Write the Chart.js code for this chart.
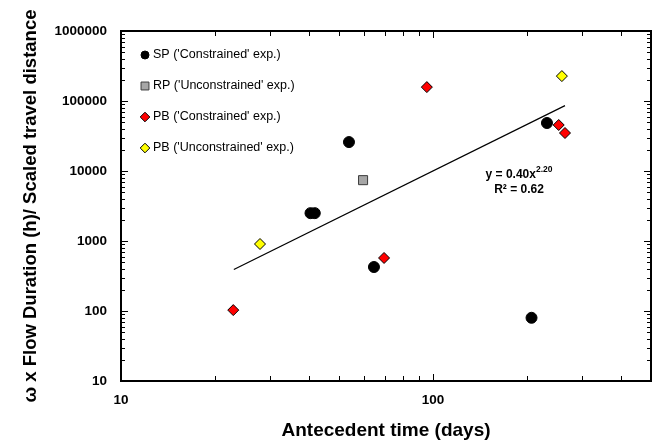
<!DOCTYPE html>
<html>
<head>
<meta charset="utf-8">
<script src="https://cdn.jsdelivr.net/npm/chart.js@4.4.0/dist/chart.umd.min.js"></script>
<style>
  html, body { margin: 0; padding: 0; background: #fff; }
</style>
</head>
<body>
<canvas id="grafico" width="659" height="442"></canvas>
<script>
const FUENTE = "'Liberation Sans', Arial, sans-serif";

// SP ('Constrained' exp.)
const spX = [40.5, 41.8, 53.8, 64.7, 207, 232];
const spY = [2500, 2500, 25900, 425, 80, 48500];
// RP ('Unconstrained' exp.)
const rpX = [59.7];
const rpY = [7400];
// PB ('Constrained' exp.)
const pbConX = [22.9, 69.7, 95.6, 253, 265];
const pbConY = [103, 572, 158000, 45400, 34900];
// PB ('Unconstrained' exp.)
const pbUncX = [27.9, 259];
const pbUncY = [906, 227000];

// recta de ajuste y = 0.40x^2.20 (extremos)
const ajusteX = [23, 265];
const ajusteY = [392, 85800];

const etiquetasX = [10, 100];
const etiquetasY = [10, 100, 1000, 10000, 100000, 1000000];

// marcas menores 2..9 de cada década
function marcasLog(min, max) {
    const marcas = [];
    for (let d = min; d < max; d *= 10) {
        for (let k = 1; k < 10; k++) marcas.push(d * k);
    }
    marcas.push(max);
    return marcas;
}
const marcasX = marcasLog(10, 100).concat([200, 300, 400, 500]);
const marcasY = marcasLog(10, 1000000);

const puntos = (xs, ys) => xs.map((x, i) => ({ x, y: ys[i] }));

const esDecada = v => Math.abs(Math.log10(v) - Math.round(Math.log10(v))) < 1e-9;

// marco del área y marcas hacia dentro en los cuatro lados
const marcoInterno = {
    id: 'marcoInterno',
    beforeDatasetsDraw(chart) {
        const { ctx, chartArea: a, scales } = chart;
        ctx.save();
        ctx.strokeStyle = '#000';
        ctx.lineWidth = 1;
        ctx.beginPath();
        marcasX.forEach(v => {
            const px = Math.round(scales.x.getPixelForValue(v)) + 0.5;
            if (px <= a.left + 1 || px >= a.right - 1) return;
            const largo = esDecada(v) ? 7 : 5;
            ctx.moveTo(px, a.bottom);
            ctx.lineTo(px, a.bottom - largo);
            ctx.moveTo(px, a.top);
            ctx.lineTo(px, a.top + largo);
        });
        marcasY.forEach(v => {
            const py = Math.round(scales.y.getPixelForValue(v)) + 0.5;
            if (py <= a.top + 1 || py >= a.bottom - 1) return;
            const largo = esDecada(v) ? 7 : 4;
            ctx.moveTo(a.left, py);
            ctx.lineTo(a.left + largo, py);
            ctx.moveTo(a.right, py);
            ctx.lineTo(a.right - largo, py);
        });
        ctx.stroke();
        ctx.lineWidth = 2;
        ctx.strokeRect(a.left, a.top, a.right - a.left, a.bottom - a.top);
        ctx.restore();
    }
};

// leyenda dentro del área y texto de la ecuación
const leyendaYEcuacion = {
    id: 'leyendaYEcuacion',
    afterDraw(chart) {
        const { ctx, chartArea: a } = chart;
        ctx.save();
        const series = chart.data.datasets.filter(d => d.enLeyenda);
        series.forEach((d, i) => {
            const x = a.left + 24;
            const y = a.top + 24 + i * 31;
            ctx.fillStyle = d.backgroundColor;
            ctx.strokeStyle = d.borderColor;
            ctx.lineWidth = 1;
            Chart.helpers.drawPoint(ctx, {
                pointStyle: d.pointStyle,
                radius: d.radioLeyenda,
                rotation: 0,
                borderWidth: 1
            }, x, y);
            ctx.fillStyle = '#000';
            ctx.font = '12.5px ' + FUENTE;
            ctx.textAlign = 'left';
            ctx.textBaseline = 'middle';
            ctx.fillText(d.label, x + 8, y);
        });

        const cx = a.left + 398;
        const y1 = a.top + 144;
        const base = 'y = 0.40x';
        const expo = '2.20';
        ctx.font = 'bold 12px ' + FUENTE;
        const wBase = ctx.measureText(base).width;
        ctx.font = 'bold 8.5px ' + FUENTE;
        const wExpo = ctx.measureText(expo).width;
        const x0 = cx - (wBase + wExpo) / 2;
        ctx.fillStyle = '#000';
        ctx.textAlign = 'left';
        ctx.textBaseline = 'middle';
        ctx.font = 'bold 12px ' + FUENTE;
        ctx.fillText(base, x0, y1);
        ctx.font = 'bold 8.5px ' + FUENTE;
        ctx.fillText(expo, x0 + wBase, y1 - 5);
        ctx.font = 'bold 12px ' + FUENTE;
        ctx.textAlign = 'center';
        ctx.fillText('R² = 0.62', cx, y1 + 15);
        ctx.restore();
    }
};

new Chart(document.getElementById('grafico'), {
    type: 'scatter',
    data: {
        datasets: [
            {
                label: "SP ('Constrained' exp.)",
                data: puntos(spX, spY),
                pointStyle: 'circle',
                pointRadius: 5.5,
                backgroundColor: '#000000',
                borderColor: '#000000',
                borderWidth: 1,
                enLeyenda: true,
                radioLeyenda: 4
            },
            {
                label: "RP ('Unconstrained' exp.)",
                data: puntos(rpX, rpY),
                pointStyle: 'rect',
                pointRadius: 6.4,
                backgroundColor: '#a6a6a6',
                borderColor: '#3c3c3c',
                borderWidth: 1,
                enLeyenda: true,
                radioLeyenda: 5.6
            },
            {
                label: "PB ('Constrained' exp.)",
                data: puntos(pbConX, pbConY),
                pointStyle: 'rectRot',
                pointRadius: 5.5,
                backgroundColor: '#ff0000',
                borderColor: '#000000',
                borderWidth: 1,
                enLeyenda: true,
                radioLeyenda: 4.8
            },
            {
                label: "PB ('Unconstrained' exp.)",
                data: puntos(pbUncX, pbUncY),
                pointStyle: 'rectRot',
                pointRadius: 5.5,
                backgroundColor: '#ffff00',
                borderColor: '#000000',
                borderWidth: 1,
                enLeyenda: true,
                radioLeyenda: 4.8
            },
            {
                label: 'ajuste',
                data: puntos(ajusteX, ajusteY),
                showLine: true,
                borderColor: '#000000',
                borderWidth: 1.2,
                pointRadius: 0,
                fill: false,
                order: 10
            }
        ]
    },
    options: {
        responsive: false,
        animation: false,
        devicePixelRatio: 1,
        layout: { padding: { top: 31, right: 8, left: 0, bottom: 0 } },
        plugins: {
            legend: { display: false },
            tooltip: { enabled: false }
        },
        scales: {
            x: {
                type: 'logarithmic',
                min: 10,
                max: 500,
                afterBuildTicks: s => { s.ticks = marcasX.map(v => ({ value: v })); },
                afterFit: s => {
                    s.height = 61;
                    s.paddingLeft = 0;
                    s.paddingRight = 0;
                },
                grid: { display: false, drawTicks: false },
                border: { display: false },
                ticks: {
                    autoSkip: false,
                    maxRotation: 0,
                    padding: 11,
                    color: '#000',
                    font: { family: FUENTE, size: 13.5, weight: 'bold' },
                    callback: v => etiquetasX.includes(v) ? String(v) : ''
                },
                title: {
                    display: true,
                    text: 'Antecedent time (days)',
                    color: '#000',
                    padding: { top: 1, bottom: 0 },
                    font: { family: FUENTE, size: 19, weight: 'bold' }
                }
            },
            y: {
                type: 'logarithmic',
                min: 10,
                max: 1000000,
                afterBuildTicks: s => { s.ticks = marcasY.map(v => ({ value: v })); },
                afterFit: s => { s.width = 121; },
                grid: { display: false, drawTicks: false },
                border: { display: false },
                ticks: {
                    autoSkip: false,
                    padding: 14,
                    color: '#000',
                    font: { family: FUENTE, size: 13.5, weight: 'bold' },
                    callback: v => etiquetasY.includes(v) ? String(v) : ''
                },
                title: {
                    display: true,
                    text: 'ω x Flow Duration (h)/ Scaled travel distance',
                    color: '#000',
                    padding: { top: 20, bottom: 0 },
                    font: { family: FUENTE, size: 18.5, weight: 'bold' }
                }
            }
        }
    },
    plugins: [marcoInterno, leyendaYEcuacion]
});
</script>
</body>
</html>
